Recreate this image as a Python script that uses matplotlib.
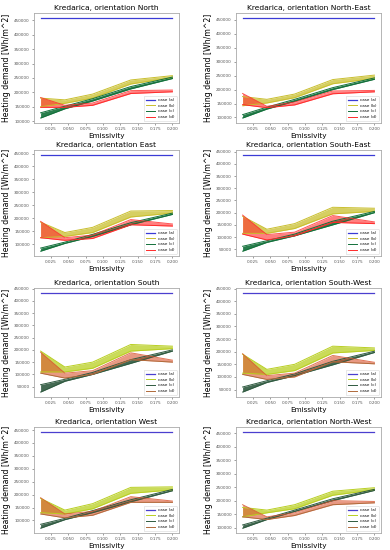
import matplotlib
matplotlib.use("Agg")
import matplotlib.pyplot as plt
from matplotlib.ticker import ScalarFormatter, FixedLocator

emissivity = [0.01, 0.045, 0.085, 0.14, 0.2]
xticks = [0.025, 0.050, 0.075, 0.100, 0.125, 0.150, 0.175, 0.200]
orientations = ["North", "North-East", "East", "South-East",
                "South", "South-West", "West", "North-West"]

case_a = [458000, 457000, 445000, 437000, 432000, 433000, 443000, 455000]

b_lo = [[150000, 162000, 180000, 229000, 251000],
        [142000, 152000, 171000, 221000, 240000],
        [125000, 130000, 145000, 205000, 220000],
        [115000, 115000, 135000, 195000, 205000],
        [110000, 110000, 125000, 195000, 205000],
        [115000, 110000, 125000, 195000, 205000],
        [130000, 125000, 145000, 205000, 218000],
        [140000, 155000, 170000, 220000, 240000]]
b_hi = [[180000, 174000, 194000, 243000, 258000],
        [175000, 165000, 184000, 236000, 252000],
        [185000, 145000, 165000, 228000, 230000],
        [185000, 132000, 155000, 222000, 218000],
        [195000, 130000, 150000, 222000, 215000],
        [190000, 130000, 150000, 222000, 215000],
        [185000, 140000, 165000, 228000, 230000],
        [175000, 165000, 185000, 235000, 248000]]

c_lo = [[111000, 143000, 170000, 212000, 248000],
        [98000, 130000, 158000, 200000, 237000],
        [73000, 103000, 130000, 175000, 215000],
        [42000, 78000, 105000, 150000, 200000],
        [28000, 72000, 100000, 145000, 195000],
        [40000, 78000, 105000, 148000, 197000],
        [70000, 103000, 130000, 172000, 215000],
        [98000, 130000, 160000, 200000, 238000]]
c_hi = [[129000, 152000, 178000, 220000, 253000],
        [110000, 137000, 165000, 207000, 242000],
        [85000, 108000, 138000, 183000, 220000],
        [62000, 85000, 112000, 165000, 205000],
        [58000, 80000, 108000, 160000, 200000],
        [60000, 85000, 112000, 162000, 202000],
        [85000, 108000, 138000, 180000, 220000],
        [110000, 135000, 165000, 207000, 242000]]

d_lo = [[148000, 148000, 155000, 196000, 202000],
        [146000, 135000, 145000, 185000, 192000],
        [125000, 115000, 122000, 175000, 170000],
        [112000, 88000, 105000, 160000, 155000],
        [105000, 85000, 100000, 160000, 150000],
        [110000, 90000, 100000, 160000, 152000],
        [125000, 110000, 120000, 170000, 170000],
        [140000, 130000, 145000, 185000, 192000]]
d_hi = [[182000, 155000, 163000, 206000, 208000],
        [186000, 140000, 155000, 195000, 197000],
        [188000, 125000, 135000, 195000, 178000],
        [190000, 110000, 120000, 188000, 162000],
        [190000, 105000, 115000, 188000, 158000],
        [192000, 105000, 115000, 185000, 158000],
        [188000, 125000, 135000, 192000, 175000],
        [185000, 140000, 155000, 200000, 197000]]

labels = ["case (a)", "case (b)", "case (c)", "case (d)"]

col_upper = {"a": "#3b3bd6", "b": "#c9bf2e", "c": "#12703a", "d": "#ff2a2a"}
col_lower = {"a": "#4a3fcf", "b": "#b9cf22", "c": "#2f5a40", "d": "#b06a3a"}
dfill_lower = "#d9532f"

fig = plt.figure(figsize=(3.9, 5.5), dpi=100)
W, H = 390.0, 550.0
lefts = [34, 236]
rows = [(13, 123), (150, 256), (288, 397), (427, 533)]
width = 145

for i, name in enumerate(orientations):
    r, c = divmod(i, 2)
    top, bot = rows[r]
    ax = fig.add_axes([lefts[c] / W, 1 - bot / H, width / W, (bot - top) / H])
    cols = col_upper if i < 4 else col_lower
    dfill = cols["d"] if i < 4 else dfill_lower
    ax.plot([emissivity[0], emissivity[-1]], [case_a[i], case_a[i]],
            color=cols["a"], lw=0.9, label=labels[0])
    ax.fill_between(emissivity, b_lo[i], b_hi[i], color=cols["b"], alpha=0.75, lw=0)
    ax.plot(emissivity, b_lo[i], color=cols["b"], lw=0.7, label=labels[1])
    ax.plot(emissivity, b_hi[i], color=cols["b"], lw=0.7)
    ax.fill_between(emissivity, c_lo[i], c_hi[i], color=cols["c"], alpha=0.9, lw=0)
    ax.plot(emissivity, c_lo[i], color=cols["c"], lw=0.7, label=labels[2])
    ax.plot(emissivity, c_hi[i], color=cols["c"], lw=0.7)
    ax.fill_between(emissivity, d_lo[i], d_hi[i], color=dfill, alpha=0.6, lw=0)
    ax.plot(emissivity, d_lo[i], color=cols["d"], lw=0.7, label=labels[3])
    ax.plot(emissivity, d_hi[i], color=dfill, lw=0.7, alpha=0.8)

    ax.set_title("Kredarica, orientation " + name, fontsize=5.4, pad=2.5)
    ax.set_xlabel("Emissivity", fontsize=5.2, labelpad=1)
    ax.set_ylabel("Heating demand [Wh/m^2]", fontsize=5.6, labelpad=2)
    ax.xaxis.set_major_locator(FixedLocator(xticks))
    ax.set_xticklabels(["%.3f" % v for v in xticks])
    fmt = ScalarFormatter(useOffset=False)
    fmt.set_scientific(False)
    ax.yaxis.set_major_formatter(fmt)
    ax.tick_params(labelsize=3.0, length=1.5, width=0.4, pad=1.5, colors="#555555")
    for s in ax.spines.values():
        s.set_color("#aaaaaa")
        s.set_linewidth(0.6)
    leg = ax.legend(loc="lower right", fontsize=2.9, frameon=True, handlelength=2.4,
                    borderpad=0.5, labelspacing=0.4)
    leg.get_frame().set_linewidth(0.4)

fig.savefig("out.png", dpi=100)
